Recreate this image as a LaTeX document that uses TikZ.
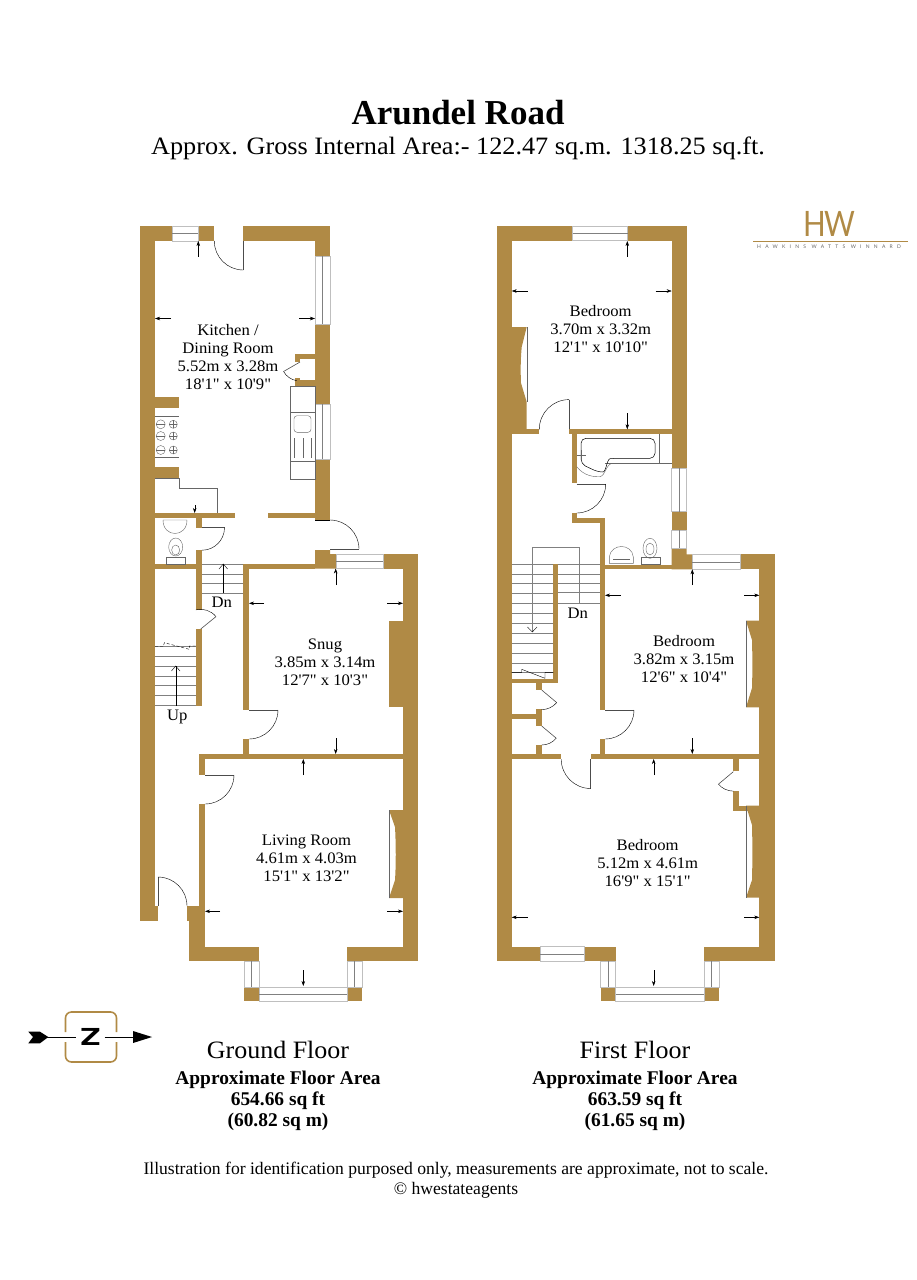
\documentclass[tikz,border=0pt]{standalone}
\usepackage{fontspec}
\setmainfont{Liberation Serif}[Ligatures = TeXOff]
\newfontfamily\logofont{Lato}
\newfontfamily\signfont{TeX Gyre Heros}
\usetikzlibrary{arrows.meta, calc}
\definecolor{wallcol}{HTML}{B08A45}
\tikzset{
	wall/.style = {fill = wallcol, draw = none},
	glass/.style = {fill = white, draw = black!25, line width = 0.5},
	glassline/.style = {draw = black!50, line width = 0.5},
	stair/.style = {draw = black!50, line width = 0.5},
	fixture/.style = {draw = black!60, line width = 0.4},
	leaf/.style = {draw = black!70, line width = 0.6},
	swing/.style = {draw = black, line width = 0.4},
	sizearrow/.style = {-{Stealth[length = 5, width = 3.5]}, black, line width = 0.4},
	roomlabel/.style = {align = center, font = \fontsize{16}{18}\selectfont\addfontfeatures{FakeStretch=1.04}},
	floorlabel/.style = {align = center, font = \fontsize{19.4}{21}\bfseries\selectfont},
	floorname/.style = {font = \fontsize{25}{28}\selectfont\addfontfeatures{FakeStretch=1.04}},
}
\newcommand{\swingdoor}[5]{
	\draw[leaf] (#1, #2) -- ++(#4:#3);
	\draw[swing] ($(#1, #2) + (#4:#3)$) arc (#4:#5:#3);
}
\begin{document}
\begin{tikzpicture}[x = 1pt, y = -1pt]
	\useasboundingbox (0, 0) rectangle (916, 1280);

	%	headings
	\node[font = \fontsize{35}{38}\bfseries\selectfont] (title) at (458, 113) {Arundel Road};
	\node[font = \fontsize{25}{30}\selectfont\addfontfeatures{FakeStretch=1.05}] (subtitle) at (458, 148) {Approx. Gross Internal Area:- 122.47 sq.m. 1318.25 sq.ft.};

	%	ground floor walls
	\foreach \xa/\ya/\xb/\yb in {140/226/155/921, 140/906/158/921, 140/226/172/241, 198/226/214/241, 243.3/226/330/241,
		315/226/330/256, 315/324/330/404, 315/459/330/520,
		295/354/315/359, 295/354/300/362, 295/380/315/386, 295/378/300/386,
		155/397/179/408, 155/467/179/478,
		155/513.3/235/518, 268/513.3/315/518, 196/518/202/528, 196/550/202/610, 196/629/202/706, 155/564/196/568.5,
		243/564/249/710, 243/739/249/754, 243/564/315/568.5, 383/554/418/568.5, 403/554/418/961, 389/621/403/707,
		199/754/403/759, 199/754/205/775, 199/804/205/906, 187/906/205/921, 189/921/205/961,
		189/946.7/259/961, 347/946.7/418/961, 244/987/259/1001, 347/987/362/1001}
		\fill[wall] (\xa, \ya) rectangle (\xb, \yb);
	\fill[wall] (315, 550) -- (330, 550) -- (330, 554) -- (336, 554) -- (336, 568.5) -- (315, 568.5) -- cycle;
	\fill[wall] (403, 810) -- (389, 810) -- (395, 827) .. controls (396, 845) and (396, 865) .. (395, 880) -- (389, 898) -- (403, 898) -- cycle;
	\draw[fixture] (389, 810) -- (389, 898);

	%	ground floor windows
	\foreach \xa/\xb/\ya/\yb in {172/198/226/241, 336/383/554/568.5, 259/347/987/1001} {
		\draw[glass] (\xa, \ya) rectangle (\xb, \yb);
		\draw[glassline] (\xa, {(\ya + \yb) / 2}) -- (\xb, {(\ya + \yb) / 2});
	}
	\foreach \xa/\xb/\ya/\yb in {315/330/256/324, 315/330/404/459, 244/259/961/987, 347/362/961/987} {
		\draw[glass] (\xa, \ya) rectangle (\xb, \yb);
		\draw[glassline] ({(\xa + \xb) / 2}, \ya) -- ({(\xa + \xb) / 2}, \yb);
	}

	%	ground floor doors
	\swingdoor{243.3}{241}{29}{90}{180}
	\swingdoor{330}{549}{29}{0}{-90}
	\draw[swing] (315, 520) -- (330, 520);
	\swingdoor{202}{527.7}{22.5}{0}{90}
	\swingdoor{249}{710}{29}{0}{90}
	\swingdoor{205}{775}{29}{0}{90}
	\swingdoor{200.7}{629}{19.7}{-39}{-104}
	\swingdoor{158}{906}{29}{-90}{0}
	\swingdoor{300}{362}{19}{150}{100}

	%	kitchen units
	\draw[fixture] (155, 478) -- (179, 478) -- (179, 488) -- (217, 488) -- (217, 513);
	\draw[fixture] (290, 386) rectangle (315, 479.3);
	\draw[fixture] (290, 411.7) -- (315, 411.7) (290, 461) -- (315, 461);
	\draw[fixture, rounded corners = 3] (294, 415.7) rectangle (311, 432.3);
	\foreach \xa in {294, 302.7, 311}
		\draw[fixture] (\xa, 438) -- (\xa, 458);
	\draw[fixture] (155, 416) -- (179, 416) (155, 456.7) -- (179, 456.7);
	\foreach \ya in {424.3, 436, 450} {
		\draw[fixture] (160.7, \ya) circle (4.5);
		\draw[fixture] (156.2, \ya) -- (165.2, \ya);
		\draw[fixture] (173.3, \ya) circle (4);
		\draw[fixture] (169.3, \ya) -- (177.3, \ya) (173.3, \ya - 4) -- (173.3, \ya + 4);
	}

	%	ground floor cloakroom
	\draw[fixture] (163, 520) .. controls (163, 538) and (187, 538) .. (187, 520) -- cycle;
	\draw[fixture] (175.7, 547) ellipse (7 and 9);
	\draw[fixture] (175.7, 550) ellipse (4 and 5);
	\draw[fixture] (166, 557) rectangle (185, 564);

	%	ground floor stairs
	\foreach \ya in {646, 656, 666, 676, 685, 695.7, 705.7}
		\draw[stair] (155, \ya) -- (196, \ya);
	\draw[black, line width = 0.4] (175.7, 705.7) -- (175.7, 666);
	\draw[black, line width = 0.4] (171.4, 671) -- (175.7, 666) -- (180, 671);
	\draw[black, line width = 0.4, densely dashed] (155, 646.7) -- (163.3, 646.7) -- (164.3, 642.7) -- (189.3, 649.3) -- (189.3, 646) -- (196, 646);
	\foreach \ya in {564, 574, 583.3, 593.3}
		\draw[stair] (202, \ya) -- (243, \ya);
	\draw[black, line width = 0.4] (223.3, 593.3) -- (223.3, 564);
	\draw[black, line width = 0.4] (219, 569) -- (223.3, 564) -- (227.6, 569);

	%	ground floor measures
	\foreach \xa/\ya/\xb/\yb in {198.3/256.7/198.3/241, 171/318.5/155/318.5, 299/318.5/315/318.5, 194.7/505/194.7/513,
		335.7/585/335.7/568.5, 264/603.3/249/603.3, 387.3/603.3/403/603.3, 335.7/738.3/335.7/754,
		303.3/775/303.3/759, 220/911.3/205/911.3, 387.3/911.3/403/911.3, 303.3/970/303.3/986}
		\draw[sizearrow] (\xa, \ya) -- (\xb, \yb);

	%	first floor walls
	\foreach \xa/\ya/\xb/\yb in {497/226/511.7/961, 497/226/572.7/240.7, 627.7/226/686.7/240.7,
		671.7/226/686.7/468, 671.7/511.7/686.7/530, 740/554.3/775/569.3, 759.3/554.3/775/961,
		511.7/429.3/539.3/434, 569/429.3/672/434,
		571.7/434/576.7/483.3, 571.7/512.7/576.7/523.3, 571.7/518.3/605/523.3, 600/518.3/605/710, 600/739.3/605/754,
		605/565/672/569.3, 553.3/564/558.3/683.3, 511.7/679.3/558.3/683.3,
		536/683/541.7/690, 536/709.3/541.7/725.7, 536/745/541.7/754, 511.7/714/536/719.3,
		511.7/754/561.3/759, 590.7/754/759.3/759, 733.3/759/739/771, 733.3/790.7/739/810.7, 733.3/805.7/759.3/810.7,
		497/946.7/540/961, 584.3/946.7/615.7/961, 704/946.7/775/961, 600.7/987/615.7/1001, 704/987/719/1001}
		\fill[wall] (\xa, \ya) rectangle (\xb, \yb);
	\fill[wall] (671.7, 548.3) -- (686.7, 548.3) -- (686.7, 554.3) -- (692.3, 554.3) -- (692.3, 569.3) -- (671.7, 569.3) -- cycle;
	\fill[wall] (511.7, 327) -- (526.7, 327) -- (521.7, 347) .. controls (520.5, 360) and (520.5, 372) .. (521, 383) -- (526.7, 402) -- (526.7, 429.3) -- (511.7, 429.3) -- cycle;
	\fill[wall] (759.3, 620.7) -- (746, 620.7) -- (752, 640) .. controls (752.5, 660) and (752.5, 670) .. (752, 688) -- (746, 707.3) -- (759.3, 707.3) -- cycle;
	\fill[wall] (759.3, 805.7) -- (746, 805.7) -- (752, 825) .. controls (752.5, 845) and (752.5, 860) .. (752, 880) -- (746, 897.7) -- (759.3, 897.7) -- cycle;
	\draw[fixture] (526.7, 327) -- (526.7, 402) (746, 620.7) -- (746, 707.3) (746, 805.7) -- (746, 897.7);

	%	first floor windows
	\foreach \xa/\xb/\ya/\yb in {572.7/627.7/226/240.7, 692.3/740/554.3/569.3, 540/584.3/946.7/961, 615.7/704/987/1001} {
		\draw[glass] (\xa, \ya) rectangle (\xb, \yb);
		\draw[glassline] (\xa, {(\ya + \yb) / 2}) -- (\xb, {(\ya + \yb) / 2});
	}
	\foreach \xa/\xb/\ya/\yb in {671.7/686.7/468/511.7, 671.7/686.7/530/548.3, 600.7/615.7/961/987, 704/719/961/987} {
		\draw[glass] (\xa, \ya) rectangle (\xb, \yb);
		\draw[glassline] ({(\xa + \xb) / 2}, \ya) -- ({(\xa + \xb) / 2}, \yb);
	}

	%	first floor doors
	\swingdoor{569}{429.3}{29.7}{-90}{-180}
	\swingdoor{576.7}{484}{29}{0}{90}
	\swingdoor{541.7}{690}{19.6}{40}{90}
	\swingdoor{541.7}{726}{19}{40}{90}
	\swingdoor{590.7}{759}{29.5}{90}{180}
	\swingdoor{605}{710}{29}{0}{90}
	\swingdoor{733.3}{771.7}{19.4}{140}{90}

	%	bathroom
	\draw[fixture] (605, 463.3) -- (672, 463.3) (659.3, 434) -- (659.3, 463.3);
	\draw[black, line width = 0.5, rounded corners = 5] (581, 438.3) -- (655, 438.3) -- (655, 458.3) -- (615, 458.3) .. controls (607, 459) and (606, 472) .. (598, 472) -- (581, 464) -- cycle;
	\draw[fixture] (576.7, 466.7) .. controls (584, 476) and (594, 477) .. (600, 476.7) .. controls (606, 475) and (606, 463.3) .. (613, 463.3);
	\draw[fixture] (577, 455) -- (586, 455) (581, 450) -- (581, 460);
	\draw[fixture] (609.3, 563.3) -- (609.3, 557) .. controls (611, 543) and (632, 543) .. (633.3, 557) -- (633.3, 563.3) -- cycle;
	\draw[fixture] (613, 559) -- (630, 559);
	\draw[fixture] (650, 548.3) ellipse (7 and 10);
	\draw[fixture] (650, 549) ellipse (4 and 6);
	\draw[fixture] (640.7, 556.7) rectangle (660, 564);

	%	first floor stairs
	\foreach \ya in {564, 574, 583.3, 592.7, 603.3}
		\draw[stair] (558.3, \ya) -- (600, \ya);
	\foreach \ya in {564, 574, 583.3, 593.3, 603.3, 613.3, 623.3, 633.3, 643.3, 653.3, 663.3, 672.3}
		\draw[stair] (511.7, \ya) -- (553.3, \ya);
	\draw[stair] (579.3, 603.3) -- (579.3, 547.3) -- (532.3, 547.3) -- (532.3, 632);
	\draw[black, line width = 0.4] (527.5, 627) -- (532.3, 632) -- (537, 627);
	\draw[black, line width = 0.4] (511.7, 672.3) -- (521.7, 672.3) -- (521.7, 669.3) -- (545, 678.3) -- (545, 672.3) -- (553.3, 672.3);

	%	first floor measures
	\foreach \xa/\ya/\xb/\yb in {627.3/256.7/627.3/241, 527.7/291/511.7/291, 655.7/291/671.7/291, 627.3/413.3/627.3/429.3,
		692.3/585/692.3/569.3, 620.7/595.3/605/595.3, 744/595.3/759.3/595.3, 692.3/738/692.3/754,
		653.7/775/653.7/759, 527.7/917.3/511.7/917.3, 744/917.3/759.3/917.3, 653.7/970/653.7/986}
		\draw[sizearrow] (\xa, \ya) -- (\xb, \yb);

	%	room labels
	\node[roomlabel] (kitchen) at (228, 357) {Kitchen /\\Dining Room\\5.52m x 3.28m\\18'1" x 10'9"};
	\node[roomlabel] (snug) at (325, 662) {Snug\\3.85m x 3.14m\\12'7" x 10'3"};
	\node[roomlabel] (living) at (306.5, 858) {Living Room\\4.61m x 4.03m\\15'1" x 13'2"};
	\node[roomlabel] (bedrear) at (600.7, 329) {Bedroom\\3.70m x 3.32m\\12'1" x 10'10"};
	\node[roomlabel] (bedmid) at (684, 659) {Bedroom\\3.82m x 3.15m\\12'6" x 10'4"};
	\node[roomlabel] (bedfront) at (647.7, 863) {Bedroom\\5.12m x 4.61m\\16'9" x 15'1"};
	\node[roomlabel] (dnground) at (221.7, 602.7) {Dn};
	\node[roomlabel] (upground) at (177.3, 716.7) {Up};
	\node[roomlabel] (dnfirst) at (577.7, 613.3) {Dn};

	%	floor captions
	\node[floorname] (groundname) at (278, 1050) {Ground Floor};
	\node[floorlabel] (groundarea) at (278, 1101) {Approximate Floor Area\\654.66 sq ft\\(60.82 sq m)};
	\node[floorname] (firstname) at (635, 1050) {First Floor};
	\node[floorlabel] (firstarea) at (635, 1101) {Approximate Floor Area\\663.59 sq ft\\(61.65 sq m)};
	\node[align = center, font = \fontsize{17.6}{20}\selectfont] (disclaimer) at (456, 1180) {Illustration for identification purposed only, measurements are approximate, not to scale.\\© hwestateagents};

	%	north sign
	\node[font = \signfont\bfseries\fontsize{26}{26}\selectfont, inner sep = 4] (north) at (90.5, 1037) {\scalebox{1.25}[0.9]{Z}};
	\draw[wallcol, line width = 1.6, rounded corners = 6] (65.5, 1032) -- (65.5, 1012) -- (116.5, 1012) -- (116.5, 1032);
	\draw[wallcol, line width = 1.6, rounded corners = 6] (65.5, 1042) -- (65.5, 1062) -- (116.5, 1062) -- (116.5, 1042);
	\coordinate (tailend) at (46, 1037);
	\coordinate (headend) at (134, 1037);
	\draw[black, line width = 0.5] (tailend) -- (north) -- (headend);
	\fill[black] (28.3, 1031.7) -- (40, 1031.7) -- (48.3, 1037) -- (40, 1043.3) -- (28.3, 1043.3) -- (33, 1037) -- cycle;
	\fill[black] (133, 1031) -- (152, 1037) -- (133, 1043) -- cycle;

	%	logo
	\node[font = \logofont\fontsize{35}{35}\selectfont, text = wallcol, inner sep = 0] (hwmark) at (829, 224) {\scalebox{0.85}[1]{H\kern -2pt W}};
	\coordinate (ruleleft) at (753, 241);
	\coordinate (ruleright) at (908, 241);
	\draw[wallcol, line width = 0.8] (ruleleft) -- (ruleright);
	\node[font = \logofont\fontsize{5}{6}\selectfont\addfontfeatures{LetterSpace = 85}, text = black!60, inner sep = 0] (hwname) at (829, 246.5) {HAWKINS WATTS WINNARD};
\end{tikzpicture}
\end{document}
